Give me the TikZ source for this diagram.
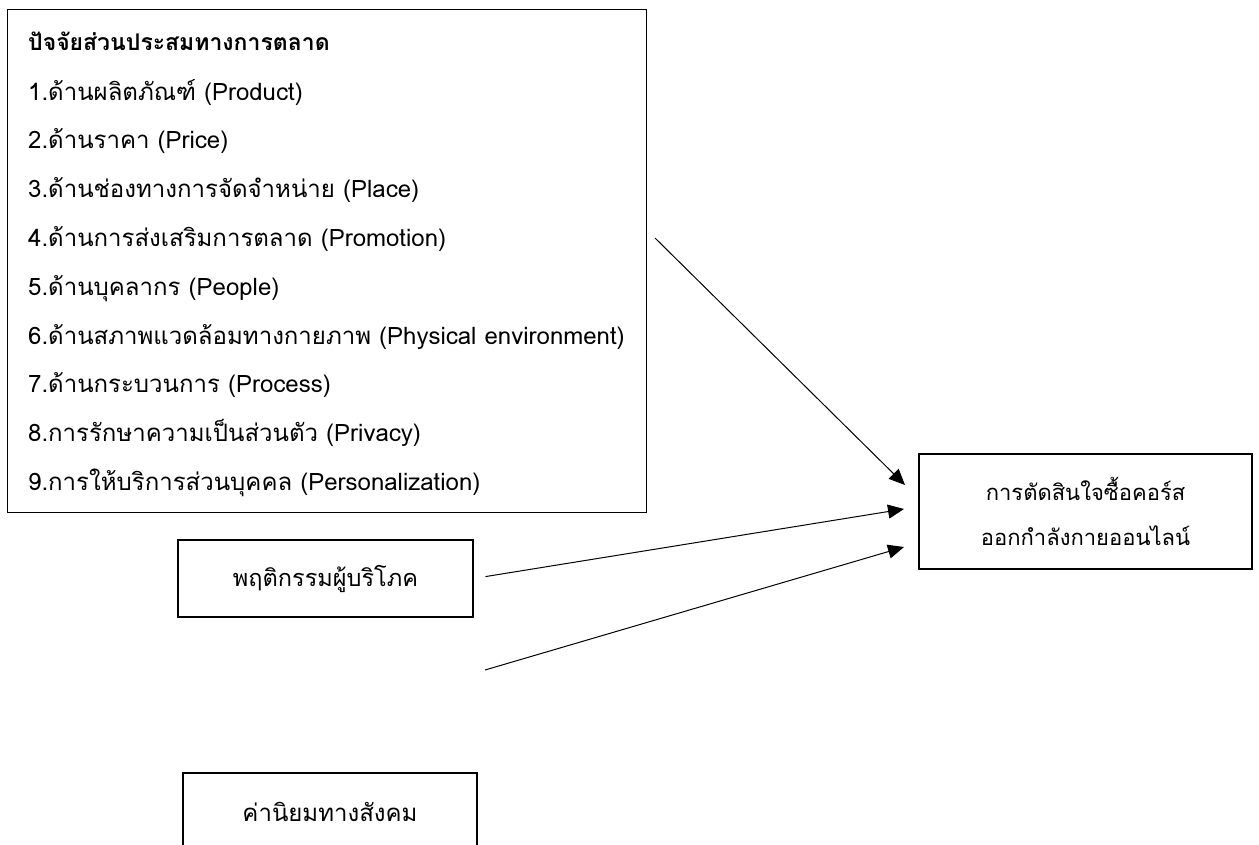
\documentclass[tikz,border=0pt]{standalone}
\usepackage{fontspec}
\setmainfont[Script=Thai]{Loma}
\usetikzlibrary{arrows.meta}

\begin{document}
\begin{tikzpicture}[x=1pt, y=-1pt,
		box/.style={draw, line width=1.3pt, inner sep=0pt},
		item/.style={anchor=base west, inner sep=0pt, font=\fontsize{24}{28}\selectfont},
		arr/.style={-{Triangle[length=16pt,width=14pt]}, line width=1pt}]
	% marketing mix and the purchase decision
	\useasboundingbox (0,0) rectangle (1259,845);
	\node[box, minimum width=639pt, minimum height=503pt, anchor=north west] (mix) at (7,9) {};
	\node[item, font=\bfseries\fontsize{23}{27}\selectfont] (mix0) at (28,51) {ปัจจัยส่วนประสมทางการตลาด};
	\node[item] (mix1) at (28,100.5) {1.ด้านผลิตภัณฑ์ (Product)};
	\node[item] (mix2) at (28,149) {2.ด้านราคา (Price)};
	\node[item] (mix3) at (28,197.5) {3.ด้านช่องทางการจัดจำหน่าย (Place)};
	\node[item] (mix4) at (28,246.5) {4.ด้านการส่งเสริมการตลาด (Promotion)};
	\node[item] (mix5) at (28,295.5) {5.ด้านบุคลากร (People)};
	\node[item] (mix6) at (28,344) {6.ด้านสภาพแวดล้อมทางกายภาพ (Physical environment)};
	\node[item] (mix7) at (28,392.5) {7.ด้านกระบวนการ (Process)};
	\node[item] (mix8) at (28,441.5) {8.การรักษาความเป็นส่วนตัว (Privacy)};
	\node[item] (mix9) at (28,490) {9.การให้บริการส่วนบุคคล (Personalization)};
	
	\node[box, minimum width=295pt, minimum height=77pt, font=\fontsize{23.5}{28}\selectfont] (behav) at (325.5,578.5) {พฤติกรรมผู้บริโภค};
	\node[box, minimum width=294pt, minimum height=78pt, font=\fontsize{24}{28}\selectfont] (social) at (330,812) {ค่านิยมทางสังคม};
	\node[box, minimum width=333pt, minimum height=115pt, align=center, font=\fontsize{22}{45}\selectfont] (decide) at (1085.5,511.5) {การตัดสินใจซื้อคอร์ส\\ออกกำลังกายออนไลน์};
	
	\coordinate (out1) at (655,238);
	\coordinate (out3) at (485,670);
	\coordinate (in1) at (905,485);
	\coordinate (in2) at (904,509);
	\coordinate (in3) at (904,547);
	
	\draw[arr] (out1) -- (in1);
	\draw[arr, shorten <=12pt] (behav.east) -- (in2);
	\draw[arr] (out3) -- (in3);
\end{tikzpicture}
\end{document}
